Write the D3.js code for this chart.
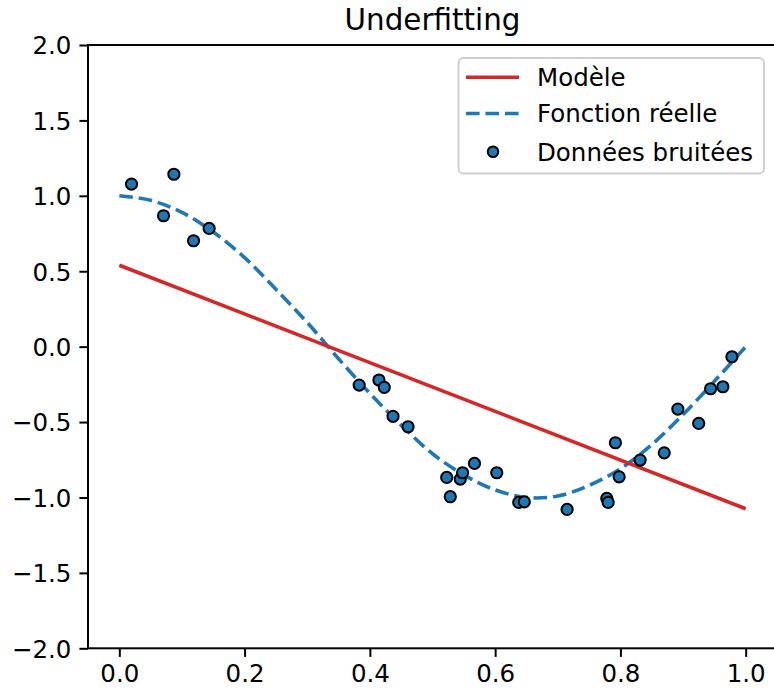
<!DOCTYPE html>
<html>
<head>
<meta charset="utf-8">
<script src="https://cdn.jsdelivr.net/npm/d3@7"></script>
<style>
  html, body { margin: 0; padding: 0; background: #fff; }
  svg { display: block; font-family: "DejaVu Sans", sans-serif; }
</style>
</head>
<body>
<script>
// Noisy samples
const sampleX = [0.0195, 0.0706, 0.0871, 0.1185, 0.1434, 0.383, 0.4145, 0.423, 0.437, 0.461,
                 0.5227, 0.5284, 0.5444, 0.548, 0.567, 0.6026, 0.6377, 0.6466, 0.7149, 0.7783,
                 0.7804, 0.792, 0.798, 0.8315, 0.870, 0.8917, 0.925, 0.944, 0.9636, 0.978];
const sampleY = [1.078, 0.868, 1.143, 0.702, 0.784, -0.255, -0.221, -0.270, -0.462, -0.531,
                 -0.867, -0.995, -0.878, -0.836, -0.774, -0.836, -1.033, -1.029, -1.079, -1.006,
                 -1.033, -0.637, -0.863, -0.752, -0.704, -0.414, -0.509, -0.279, -0.266, -0.067];

// True function, sampled
const trueX = [0, 0.05, 0.1, 0.15, 0.2, 0.25, 0.3, 0.35, 0.4, 0.45, 0.5,
               0.55, 0.6, 0.65, 0.7, 0.75, 0.8, 0.85, 0.9, 0.95, 1.0];
const trueY = [1.0, 0.97, 0.89, 0.76, 0.59, 0.38, 0.16, -0.08, -0.31, -0.52, -0.71,
               -0.85, -0.95, -1.0, -0.99, -0.92, -0.81, -0.65, -0.45, -0.23, 0.0];

// Linear model (underfit)
const modelX = [0, 1];
const modelY = [0.54, -1.075];

const xTicks = [0.0, 0.2, 0.4, 0.6, 0.8, 1.0];
const yTicks = [-2.0, -1.5, -1.0, -0.5, 0.0, 0.5, 1.0, 1.5, 2.0];
const legendLabels = ["Modèle", "Fonction réelle", "Données bruitées"];
const titleText = "Underfitting";

const W = 774, H = 690;
const plot = { left: 88, right: 777, top: 45, bottom: 648.3 };
const red = "#d62728", blue = "#1f77b4";

const svg = d3.select("body").append("svg").attr("width", W).attr("height", H);

const x = d3.scaleLinear().domain([-0.05, 1.05]).range([plot.left, plot.right]);
const y = d3.scaleLinear().domain([-2, 2]).range([plot.bottom, plot.top]);

// Axes
const fmt = d3.format(".1f");
const minusFmt = v => fmt(v).replace("-", "\u2212");

const xAxis = svg.append("g")
  .attr("transform", `translate(0,${plot.bottom})`)
  .call(d3.axisBottom(x).tickValues(xTicks).tickFormat(minusFmt).tickSize(8.6).tickPadding(8));
const yAxis = svg.append("g")
  .attr("transform", `translate(${plot.left},0)`)
  .call(d3.axisLeft(y).tickValues(yTicks).tickFormat(minusFmt).tickSize(8.6).tickPadding(8));

[xAxis, yAxis].forEach(g => {
  g.select(".domain").remove();
  g.selectAll(".tick line").attr("stroke", "#000").attr("stroke-width", 2);
  g.selectAll(".tick text").attr("fill", "#000").style("font-size", "24.5px")
    .style("font-family", "'DejaVu Sans', sans-serif");
});
yAxis.selectAll(".tick text").attr("dy", "0.36em");

// Frame
svg.append("rect")
  .attr("x", plot.left).attr("y", plot.top)
  .attr("width", plot.right - plot.left).attr("height", plot.bottom - plot.top)
  .attr("fill", "none").attr("stroke", "#000").attr("stroke-width", 2);

// Title
svg.append("text")
  .attr("x", (plot.left + plot.right) / 2).attr("y", 29.5)
  .attr("text-anchor", "middle")
  .style("font-size", "29.4px")
  .attr("fill", "#000")
  .text(titleText);

const clip = svg.append("defs").append("clipPath").attr("id", "plotclip")
  .append("rect").attr("x", plot.left).attr("y", plot.top)
  .attr("width", plot.right - plot.left).attr("height", plot.bottom - plot.top);

const area = svg.append("g").attr("clip-path", "url(#plotclip)");

// True function (dashed)
const trueData = trueX.map((v, i) => [v, trueY[i]]);
area.append("path")
  .datum(trueData)
  .attr("fill", "none")
  .attr("stroke", blue)
  .attr("stroke-width", 3.6)
  .attr("stroke-dasharray", "13.6,5.9")
  .attr("d", d3.line().x(d => x(d[0])).y(d => y(d[1])).curve(d3.curveCatmullRom));

// Model line
const modelData = modelX.map((v, i) => [v, modelY[i]]);
area.append("path")
  .datum(modelData)
  .attr("fill", "none")
  .attr("stroke", red)
  .attr("stroke-width", 3.6)
  .attr("d", d3.line().x(d => x(d[0])).y(d => y(d[1])));

// Noisy points
const pts = sampleX.map((v, i) => [v, sampleY[i]]);
area.selectAll("circle.pt").data(pts).enter().append("circle")
  .attr("class", "pt")
  .attr("cx", d => x(d[0])).attr("cy", d => y(d[1]))
  .attr("r", 5.6)
  .attr("fill", blue)
  .attr("stroke", "#000")
  .attr("stroke-width", 2);

// Legend
const lg = svg.append("g");
lg.append("rect")
  .attr("x", 458.5).attr("y", 58).attr("width", 305.5).attr("height", 115.5)
  .attr("rx", 5).attr("ry", 5)
  .attr("fill", "#fff").attr("fill-opacity", 0.8)
  .attr("stroke", "#d0d0d0").attr("stroke-width", 2);

const rowY = [77.3, 113.5, 151.7];
lg.append("line").attr("x1", 466).attr("x2", 519).attr("y1", rowY[0]).attr("y2", rowY[0])
  .attr("stroke", red).attr("stroke-width", 3.6);
lg.append("line").attr("x1", 466).attr("x2", 519).attr("y1", rowY[1]).attr("y2", rowY[1])
  .attr("stroke", blue).attr("stroke-width", 3.6).attr("stroke-dasharray", "13.6,5.9");
lg.append("circle").attr("cx", 493).attr("cy", rowY[2]).attr("r", 5.3)
  .attr("fill", blue).attr("stroke", "#000").attr("stroke-width", 2);

lg.selectAll("text.lbl").data(legendLabels).enter().append("text")
  .attr("class", "lbl")
  .attr("x", 537).attr("y", (d, i) => rowY[i])
  .attr("dy", "0.36em")
  .style("font-size", "24.5px")
  .attr("fill", "#000")
  .text(d => d);
</script>
</body>
</html>
